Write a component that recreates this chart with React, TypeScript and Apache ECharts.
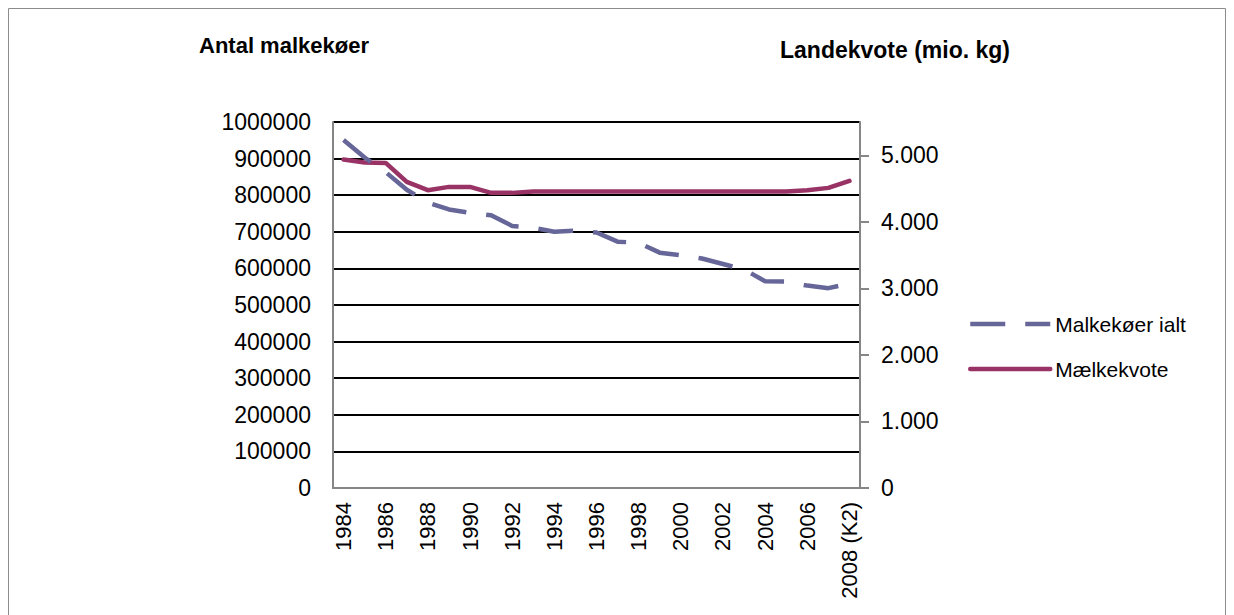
import React, { useEffect, useRef } from "react";
import * as echarts from "echarts";

const categories: string[] = [
  "1984", "1985", "1986", "1987", "1988", "1989", "1990", "1991", "1992", "1993",
  "1994", "1995", "1996", "1997", "1998", "1999", "2000", "2001", "2002", "2003",
  "2004", "2005", "2006", "2007", "2008 (K2)",
];

const cowsName = "Malkekøer ialt";
const cows: number[] = [
  951000, 903000, 863000, 815000, 780000, 761000, 752000, 745000, 716000, 711000,
  700000, 703000, 698000, 673000, 670000, 643000, 636000, 627000, 612000, 597000,
  565000, 564000, 553000, 546000, 559000,
];

const quotaName = "Mælkekvote";
const quota: number[] = [
  4935, 4890, 4885, 4600, 4475, 4525, 4525, 4435, 4435, 4455,
  4455, 4455, 4455, 4455, 4455, 4455, 4455, 4455, 4455, 4455,
  4455, 4455, 4475, 4510, 4615,
];

const leftTitle = "Antal malkekøer";
const rightTitle = "Landekvote (mio. kg)";
const rightTicks: number[] = [0, 1000, 2000, 3000, 4000, 5000];

const FONT = "'Liberation Sans', Arial, sans-serif";

function fmtRight(v: number): string {
  if (v === 0) return "0";
  const th = Math.floor(v / 1000);
  const rest = String(v % 1000).padStart(3, "0");
  return `${th}.${rest}`;
}

export default function App() {
  const ref = useRef<HTMLDivElement>(null);
  useEffect(() => {
    if (!ref.current) return;
    const chart = echarts.init(ref.current, undefined, { renderer: "svg" });
    chart.setOption({
      animation: false,
      backgroundColor: "#ffffff",
      textStyle: { fontFamily: FONT },
      graphic: [
        {
          type: "rect",
          shape: { x: 0.5, y: 0.5, width: 1217, height: 700 },
          style: { fill: "none", stroke: "#8c8c8c", lineWidth: 1 },
          silent: true,
        },
        {
          type: "text",
          x: 191,
          y: 37,
          style: {
            text: leftTitle,
            font: `bold 22px ${FONT}`,
            fill: "#000",
            verticalAlign: "middle",
            align: "left",
          },
        },
        {
          type: "text",
          x: 772,
          y: 42,
          style: {
            text: rightTitle,
            font: `bold 23px ${FONT}`,
            fill: "#000",
            verticalAlign: "middle",
            align: "left",
          },
        },
      ],
      legend: {
        orient: "vertical",
        left: 955,
        top: 299,
        itemWidth: 80,
        itemHeight: 14,
        itemGap: 21,
        data: [cowsName, quotaName],
        itemStyle: { opacity: 0 },
        lineStyle: { width: 4.5 },
        textStyle: { fontSize: 21, color: "#000", lineHeight: 24, fontFamily: FONT },
      },
      grid: { left: 325, right: 366, top: 114, bottom: 127, containLabel: false },
      xAxis: {
        type: "category",
        data: categories,
        boundaryGap: true,
        axisLine: { show: true, lineStyle: { color: "#868686", width: 2 } },
        axisTick: { show: false },
        axisLabel: {
          rotate: 90,
          interval: 1,
          margin: 14,
          fontSize: 22,
          color: "#000",
          fontFamily: FONT,
        },
        splitLine: { show: false },
      },
      yAxis: [
        {
          type: "value",
          min: 0,
          max: 1000000,
          interval: 100000,
          axisLine: { show: true, lineStyle: { color: "#868686", width: 2 } },
          axisTick: { show: false },
          axisLabel: {
            margin: 22,
            fontSize: 23,
            color: "#000",
            fontFamily: FONT,
            formatter: (v: number) => String(v),
          },
          splitLine: { show: true, showMinLine: false, lineStyle: { color: "#000", width: 2 } },
        },
        {
          type: "value",
          min: 0,
          max: 5500,
          interval: 1000,
          position: "right",
          axisLine: { show: true, lineStyle: { color: "#868686", width: 2 } },
          axisTick: {
            show: true,
            length: 9,
            customValues: rightTicks,
            lineStyle: { color: "#868686", width: 2 },
          },
          axisLabel: {
            margin: 21,
            fontSize: 23,
            color: "#000",
            fontFamily: FONT,
            customValues: rightTicks,
            formatter: (v: number) => fmtRight(v),
          },
          splitLine: { show: false },
        },
      ],
      series: [
        {
          name: quotaName,
          type: "line",
          yAxisIndex: 1,
          data: quota,
          symbol: "none",
          lineStyle: { color: "#993366", width: 4.5, cap: "round", join: "round" },
          itemStyle: { color: "#993366" },
          z: 3,
        },
        {
          name: cowsName,
          type: "line",
          yAxisIndex: 0,
          data: cows,
          symbol: "none",
          lineStyle: { color: "#666699", width: 4.5, type: [35, 20], cap: "butt" },
          itemStyle: { color: "#666699" },
          z: 4,
        },
      ],
    });
    return () => chart.dispose();
  }, []);
  return <div ref={ref} style={{ width: 1218, height: 607 }} />;
}
